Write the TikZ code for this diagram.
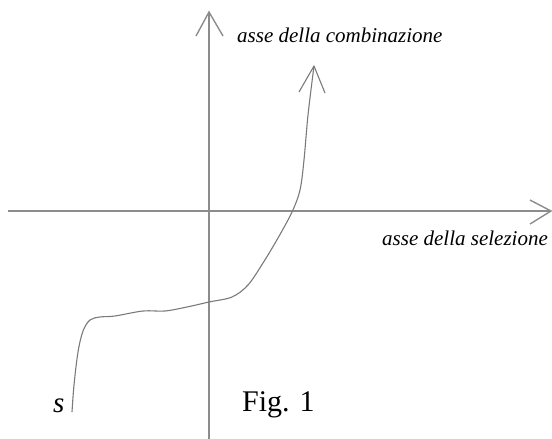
\documentclass[tikz,border=0pt]{standalone}
\usepackage{fontspec}
\setmainfont{Liberation Serif}
\begin{document}
\begin{tikzpicture}[x=1pt,y=-1pt,
  axisline/.style={draw=axgray,line width=1.4pt},
  curveline/.style={draw=cvgray,line width=1.1pt,line join=round},
  lbl/.style={anchor=base west,inner sep=0pt,text=black}]
\definecolor{axgray}{HTML}{8C8C8C}
\definecolor{cvgray}{HTML}{7A7A7A}
\useasboundingbox (0,0) rectangle (552,439);
% axes
\coordinate (vtop) at (209,12);
\coordinate (vbot) at (209,439);
\coordinate (hleft) at (8,211);
\coordinate (hright) at (551,211);
\draw[axisline] (vbot) -- (vtop);
\draw[axisline] (196,36) -- (vtop) -- (223,36);
\draw[axisline] (hleft) -- (hright);
\draw[axisline] (530,200) -- (hright) -- (530,224);
% curve
\coordinate (cstart) at (72,412);
\coordinate (ctip) at (314,66);
\draw[curveline] plot[smooth,tension=0.55] coordinates {
  (72,412) (74,385) (78,352) (83,331) (90,320) (100,317) (115,316)
  (143,311) (165,311) (187,307) (209,302) (232,297) (248,285)
  (263,263) (278,238) (292,212) (300,190) (304,160)
  (308,115) (314,66)};
\draw[curveline] (299,92) -- (ctip) -- (325,93);
% labels
\node[lbl,font=\fontsize{21}{25}\selectfont\itshape] (lcomb) at (237,42) {asse della combinazione};
\node[lbl,font=\fontsize{21}{25}\selectfont\itshape] (lsel) at (382,245) {asse della selezione};
\node[lbl,font=\fontsize{30}{36}\selectfont] (lfig) at (242,411) {Fig. 1};
\node[lbl,font=\fontsize{29}{34}\selectfont\itshape] (ls) at (53,412) {s};
\end{tikzpicture}
\end{document}
